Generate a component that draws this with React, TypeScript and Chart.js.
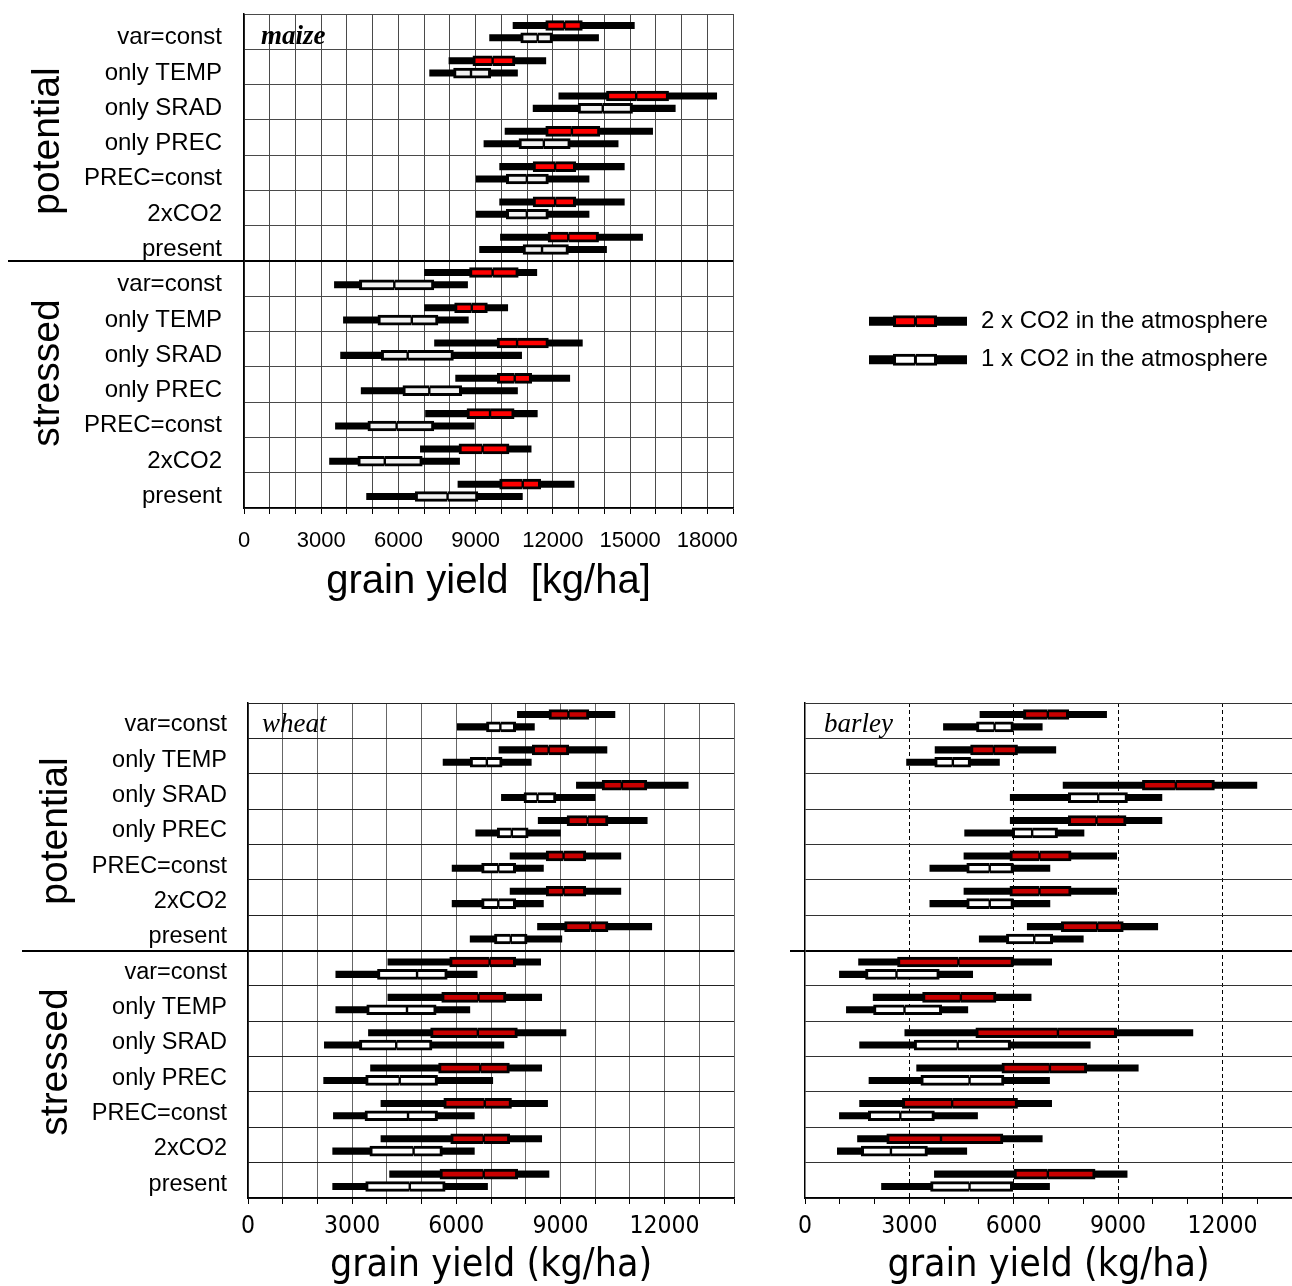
import React, { useEffect, useRef } from 'react';
import { Chart, registerables } from 'chart.js';

Chart.register(...registerables);

// ---------- categories / labels ----------
const scenarios = ['var=const', 'only TEMP', 'only SRAD', 'only PREC', 'PREC=const', '2xCO2', 'present'];
const rowLabels = [...scenarios, ...scenarios]; // potential block, then stressed block
const groupLabels = ['potential', 'stressed'];
const legendLabels = ['2 x CO2 in the atmosphere', '1 x CO2 in the atmosphere'];
const xTickStep = 1000;
const xLabelStep = 3000;

// ---------- maize (kg/ha) ----------
const maize2Min = [10440, 7950, 12220, 10130, 9920, 9920, 9950, 7000, 7000, 7390, 8210, 7040, 6840, 8300];
const maize2Q1 = [11710, 8880, 14070, 11710, 11220, 11220, 11800, 8750, 8170, 9820, 9830, 8650, 8340, 9920];
const maize2Med = [12450, 9660, 15240, 12740, 12090, 12090, 12600, 9660, 8850, 10610, 10520, 9560, 9270, 10830];
const maize2Q3 = [13160, 10540, 16510, 13840, 12900, 12900, 13790, 10670, 9470, 11840, 11190, 10510, 10310, 11540];
const maize2Max = [15180, 11740, 18380, 15890, 14790, 14790, 15500, 11390, 10260, 13160, 12670, 11410, 11170, 12840];

const maize1Min = [9530, 7200, 11220, 9310, 9010, 9010, 9140, 3500, 3850, 3740, 4540, 3540, 3310, 4750];
const maize1Q1 = [10740, 8130, 12970, 10670, 10180, 10180, 10830, 4470, 5190, 5320, 6160, 4800, 4410, 6640];
const maize1Med = [11410, 8820, 13940, 11650, 10990, 10990, 11580, 5840, 6520, 6360, 7200, 5930, 5470, 7910];
const maize1Q3 = [12000, 9600, 15110, 12690, 11840, 11840, 12620, 7390, 7550, 8150, 8470, 7390, 6940, 9100];
const maize1Max = [13790, 10640, 16770, 14550, 13420, 13420, 14100, 8700, 8730, 10800, 10640, 8960, 8390, 10830];

// ---------- wheat (kg/ha) ----------
const wheat2Min = [7750, 7220, 9450, 8350, 7540, 7540, 8330, 4020, 4020, 3460, 3520, 3820, 3820, 4070];
const wheat2Q1 = [8660, 8180, 10190, 9180, 8580, 8580, 9110, 5800, 5570, 5250, 5480, 5630, 5830, 5520];
const wheat2Med = [9230, 8660, 10770, 9780, 9090, 9090, 9860, 6960, 6640, 6620, 6690, 6820, 6790, 6790];
const wheat2Q3 = [9830, 9250, 11500, 10380, 9740, 9740, 10380, 7720, 7440, 7770, 7540, 7600, 7550, 7780];
const wheat2Max = [10580, 10350, 12690, 11510, 10750, 10750, 11640, 8440, 8470, 9170, 8470, 8640, 8470, 8680];

const wheat1Min = [6020, 5610, 7290, 6550, 5870, 5870, 6390, 2520, 2520, 2190, 2170, 2450, 2430, 2430];
const wheat1Q1 = [6860, 6390, 7940, 7170, 6720, 6720, 7090, 3720, 3410, 3200, 3380, 3360, 3500, 3380];
const wheat1Med = [7270, 6880, 8340, 7600, 7210, 7210, 7570, 4870, 4580, 4270, 4370, 4610, 4770, 4660];
const wheat1Q3 = [7720, 7330, 8880, 8080, 7720, 7720, 8050, 5750, 5430, 5310, 5470, 5470, 5610, 5690];
const wheat1Max = [8260, 8170, 10010, 9010, 8520, 8520, 9050, 6610, 6400, 7380, 7060, 6530, 6530, 6910];

// ---------- barley (kg/ha) ----------
const barley2Min = [5020, 3730, 7410, 5890, 4560, 4560, 6380, 1530, 1950, 2860, 3200, 1560, 1500, 3710];
const barley2Q1 = [6270, 4750, 9690, 7560, 5880, 5880, 7360, 2650, 3370, 4900, 5650, 2790, 2340, 6000];
const barley2Med = [6980, 5430, 10660, 8380, 6740, 6740, 8400, 4410, 4480, 7270, 7040, 4230, 3910, 6980];
const barley2Q3 = [7590, 6120, 11780, 9240, 7660, 7660, 9160, 6000, 5500, 8970, 8110, 6120, 5700, 8350];
const barley2Max = [8680, 7220, 13000, 10270, 8970, 8970, 10150, 7100, 6510, 11160, 9590, 7100, 6830, 9270];

const barley1Min = [3970, 2910, 5890, 4580, 3580, 3580, 5000, 980, 1180, 1560, 1830, 980, 920, 2190];
const barley1Q1 = [4920, 3720, 7560, 5950, 4640, 4640, 5780, 1730, 1960, 3130, 3320, 1810, 1610, 3600];
const barley1Med = [5450, 4250, 8430, 6530, 5310, 5310, 6590, 2630, 2860, 4390, 4730, 2740, 2470, 4730];
const barley1Q3 = [6000, 4770, 9280, 7270, 6000, 6000, 7130, 3870, 3940, 5920, 5730, 3730, 3530, 5980];
const barley1Max = [6830, 5600, 10270, 8030, 7050, 7050, 8010, 4830, 4690, 8210, 7040, 4970, 4660, 7040];

// ---------- legend sample symbol ----------
const legendRange = [0, 10];
const legendBox = [2.45, 4.74, 6.94];

// ---------- styling ----------
const SANS = "'Liberation Sans', Arial, sans-serif";
const NARROW = "'Liberation Sans Narrow', 'Arial Narrow', 'DejaVu Sans Condensed', 'Liberation Sans', sans-serif";
const SERIF = "'Liberation Serif', 'Times New Roman', serif";
const CAT_PCT = 0.7;
const WHISKER_PCT = 0.57;
const BOX_PCT = 0.86;
const sepIndex = scenarios.length;
const CLEAR = 'rgba(0,0,0,0)';

type Stats = { min: number[]; q1: number[]; med: number[]; q3: number[]; max: number[] };

const pair = (a: number[], b: number[]) => a.map((v, i) => [v, b[i]]);

function seriesDatasets(s: Stats, fill: string, stack: string, name: string) {
  const common = {
    borderColor: '#000',
    borderSkipped: false,
    stack,
    categoryPercentage: CAT_PCT,
    inflateAmount: 0,
  };
  return {
    boxes: [
      { ...common, label: name + ' (Q1-median)', data: pair(s.q1, s.med), backgroundColor: fill,
        borderWidth: { top: 3, bottom: 3, left: 3, right: 1.2 }, barPercentage: BOX_PCT, order: 0 },
      { ...common, label: name + ' (median-Q3)', data: pair(s.med, s.q3), backgroundColor: fill,
        borderWidth: { top: 3, bottom: 3, left: 1.2, right: 3 }, barPercentage: BOX_PCT, order: 0 },
    ],
    whisker: { ...common, label: name + ' (range)', data: pair(s.min, s.max), backgroundColor: '#000',
      borderWidth: 0, barPercentage: WHISKER_PCT, order: 1 },
  };
}

type PanelParams = {
  red: Stats; white: Stats; redFill: string; whiteFill: string;
  xMax: number; padding: any; yWidth: number; xHeight: number;
  sepExt: number; yPad: number; showY: boolean; yFont: any; yLabelOffset: number;
  xTickFont: any; xTickPad: number; xTitle: string; xTitleFont: any; xTitlePad: number;
  xGridColor: any; xDash?: number[]; yGridColor: string;
};

function panelConfig(p: PanelParams): any {
  const r = seriesDatasets(p.red, p.redFill, 'r', '2 x CO2');
  const w = seriesDatasets(p.white, p.whiteFill, 'w', '1 x CO2');
  return {
    type: 'bar',
    data: { labels: rowLabels, datasets: [...r.boxes, ...w.boxes, r.whisker, w.whisker] },
    options: {
      indexAxis: 'y',
      animation: false,
      responsive: false,
      events: [],
      layout: { padding: p.padding },
      plugins: { legend: { display: false }, tooltip: { enabled: false } },
      scales: {
        x: {
          type: 'linear', min: 0, max: p.xMax, stacked: false,
          ticks: {
            stepSize: xTickStep, autoSkip: false, maxRotation: 0, minRotation: 0,
            color: '#000', font: p.xTickFont, padding: p.xTickPad,
            callback: (v: any) => (Number(v) % xLabelStep === 0 ? String(v) : ''),
          },
          grid: { color: p.xGridColor, lineWidth: 1, drawTicks: true, tickLength: 6, tickColor: '#000', tickWidth: 1 },
          border: { color: '#000', width: 1.5, dash: p.xDash },
          title: { display: true, text: p.xTitle, color: '#000', font: p.xTitleFont, padding: { top: 0, bottom: p.xTitlePad } },
          afterFit: (s: any) => { s.height = p.xHeight; s.paddingLeft = 0; s.paddingRight = 0; },
        },
        y: {
          type: 'category', offset: true,
          ticks: { display: p.showY, autoSkip: false, color: '#000', font: p.yFont, padding: p.yPad, labelOffset: p.yLabelOffset },
          grid: {
            offset: true,
            color: (c: any) => (c.index === sepIndex ? '#000' : p.yGridColor),
            lineWidth: (c: any) => (c.index === sepIndex ? 2 : 1),
            drawTicks: true,
            tickLength: p.sepExt,
            tickColor: (c: any) => (c.index === sepIndex ? '#000' : CLEAR),
            tickWidth: (c: any) => (c.index === sepIndex ? 2 : 1),
          },
          border: { color: '#000', width: 1.5 },
          afterFit: (s: any) => { s.width = p.yWidth; s.paddingTop = 0; s.paddingBottom = 0; },
        },
      },
    },
  };
}

function maizeConfig() {
  return panelConfig({
    red: { min: maize2Min, q1: maize2Q1, med: maize2Med, q3: maize2Q3, max: maize2Max },
    white: { min: maize1Min, q1: maize1Q1, med: maize1Med, q3: maize1Q3, max: maize1Max },
    redFill: '#ff0000', whiteFill: '#f2f2f2',
    xMax: 19000, padding: { left: 0, top: 14, right: 8, bottom: 0 },
    yWidth: 244, xHeight: 102, sepExt: 236, yPad: -214, showY: true,
    yFont: { family: SANS, size: 24 }, yLabelOffset: 6,
    xTickFont: { family: SANS, size: 22 }, xTickPad: 14,
    xTitle: 'grain yield  [kg/ha]', xTitleFont: { family: SANS, size: 40 }, xTitlePad: 4,
    xGridColor: '#4a4a4a', yGridColor: '#4a4a4a',
  });
}

function wheatConfig() {
  return panelConfig({
    red: { min: wheat2Min, q1: wheat2Q1, med: wheat2Med, q3: wheat2Q3, max: wheat2Max },
    white: { min: wheat1Min, q1: wheat1Q1, med: wheat1Med, q3: wheat1Q3, max: wheat1Max },
    redFill: '#c80000', whiteFill: '#ffffff',
    xMax: 14000, padding: { left: 0, top: 13, right: 8, bottom: 0 },
    yWidth: 248, xHeight: 88, sepExt: 226, yPad: -205, showY: true,
    yFont: { family: SANS, size: 23.5 }, yLabelOffset: 4,
    xTickFont: { family: NARROW, size: 24.5 }, xTickPad: 8,
    xTitle: 'grain yield (kg/ha)', xTitleFont: { family: NARROW, size: 39, lineHeight: 1 }, xTitlePad: 1,
    xGridColor: '#666', yGridColor: '#222',
  });
}

function barleyConfig() {
  return panelConfig({
    red: { min: barley2Min, q1: barley2Q1, med: barley2Med, q3: barley2Q3, max: barley2Max },
    white: { min: barley1Min, q1: barley1Q1, med: barley1Med, q3: barley1Q3, max: barley1Max },
    redFill: '#c80000', whiteFill: '#ffffff',
    xMax: 14000, padding: { left: 0, top: 13, right: 0, bottom: 0 },
    yWidth: 35, xHeight: 88, sepExt: 15, yPad: 4, showY: false,
    yFont: { family: SANS, size: 24 }, yLabelOffset: 0,
    xTickFont: { family: NARROW, size: 24.5 }, xTickPad: 8,
    xTitle: 'grain yield (kg/ha)', xTitleFont: { family: NARROW, size: 39, lineHeight: 1 }, xTitlePad: 1,
    xGridColor: (c: any) => {
      const v = c.tick ? c.tick.value : 0;
      return v > 0 && v % xLabelStep === 0 ? '#000' : CLEAR;
    },
    xDash: [4, 3],
    yGridColor: '#333',
  });
}

function legendConfig(): any {
  const fills = ['#ff0000', '#ffffff'];
  const common = { borderColor: '#000', borderSkipped: false, stack: 'a', inflateAmount: 0 };
  const n = legendLabels.length;
  const rep = (a: number, b: number) => legendLabels.map(() => [a, b]);
  return {
    type: 'bar',
    data: {
      labels: legendLabels,
      datasets: [
        { ...common, label: 'box lower', data: rep(legendBox[0], legendBox[1]), backgroundColor: (c: any) => fills[c.dataIndex % n],
          borderWidth: { top: 3, bottom: 3, left: 3, right: 1.5 }, barThickness: 12, order: 0 },
        { ...common, label: 'box upper', data: rep(legendBox[1], legendBox[2]), backgroundColor: (c: any) => fills[c.dataIndex % n],
          borderWidth: { top: 3, bottom: 3, left: 1.5, right: 3 }, barThickness: 12, order: 0 },
        { ...common, label: 'range', data: rep(legendRange[0], legendRange[1]), backgroundColor: '#000',
          borderWidth: 0, barThickness: 9, order: 1 },
      ],
    },
    options: {
      indexAxis: 'y',
      animation: false,
      responsive: false,
      events: [],
      layout: { padding: { left: 9, top: 12, right: 0, bottom: 11 } },
      plugins: { legend: { display: false }, tooltip: { enabled: false } },
      scales: {
        x: { display: false, min: legendRange[0], max: legendRange[1], stacked: false },
        y: {
          position: 'right', offset: true,
          grid: { display: false, drawTicks: false },
          border: { display: false },
          ticks: { color: '#000', font: { family: SANS, size: 24 }, padding: 14, crossAlign: 'near' },
          afterFit: (s: any) => { s.width = 430 - 9 - 98; s.paddingTop = 0; s.paddingBottom = 0; },
        },
      },
    },
  };
}

function ChartCanvas({ make, left, top, width, height }: { make: () => any; left: number; top: number; width: number; height: number }) {
  const ref = useRef<HTMLCanvasElement>(null);
  useEffect(() => {
    const chart = new Chart(ref.current as HTMLCanvasElement, make());
    return () => chart.destroy();
  }, [make]);
  return (
    <canvas ref={ref} width={width} height={height}
      style={{ position: 'absolute', left, top, width, height, display: 'block' }} />
  );
}

function VLabel({ text, cx, cy }: { text: string; cx: number; cy: number }) {
  return (
    <div style={{
      position: 'absolute', left: cx, top: cy, transform: 'translate(-50%, -50%) rotate(-90deg)',
      font: `39px ${SANS}`, lineHeight: 1, whiteSpace: 'nowrap', color: '#000',
    }}>{text}</div>
  );
}

function PanelName({ text, x, cy, bold }: { text: string; x: number; cy: number; bold?: boolean }) {
  return (
    <div style={{
      position: 'absolute', left: x, top: cy, transform: 'translateY(-50%)',
      font: `italic ${bold ? 'bold ' : ''}27px ${SERIF}`, lineHeight: 1, whiteSpace: 'nowrap', color: '#000',
    }}>{text}</div>
  );
}

export default function App() {
  return (
    <div style={{ position: 'absolute', left: 0, top: 0, width: 1292, height: 1286, background: '#fff', overflow: 'hidden' }}>
      <ChartCanvas make={maizeConfig} left={0} top={0} width={741} height={610} />
      <ChartCanvas make={legendConfig} left={860} top={290} width={430} height={100} />
      <ChartCanvas make={wheatConfig} left={0} top={690} width={742} height={596} />
      <ChartCanvas make={barleyConfig} left={770} top={690} width={522} height={596} />

      <VLabel text={groupLabels[0]} cx={45} cy={141} />
      <VLabel text={groupLabels[1]} cx={45} cy={373} />
      <VLabel text={groupLabels[0]} cx={53} cy={831} />
      <VLabel text={groupLabels[1]} cx={53} cy={1062} />

      <PanelName text="maize" x={261} cy={35} bold />
      <PanelName text="wheat" x={262} cy={723} />
      <PanelName text="barley" x={824} cy={723} />
    </div>
  );
}
